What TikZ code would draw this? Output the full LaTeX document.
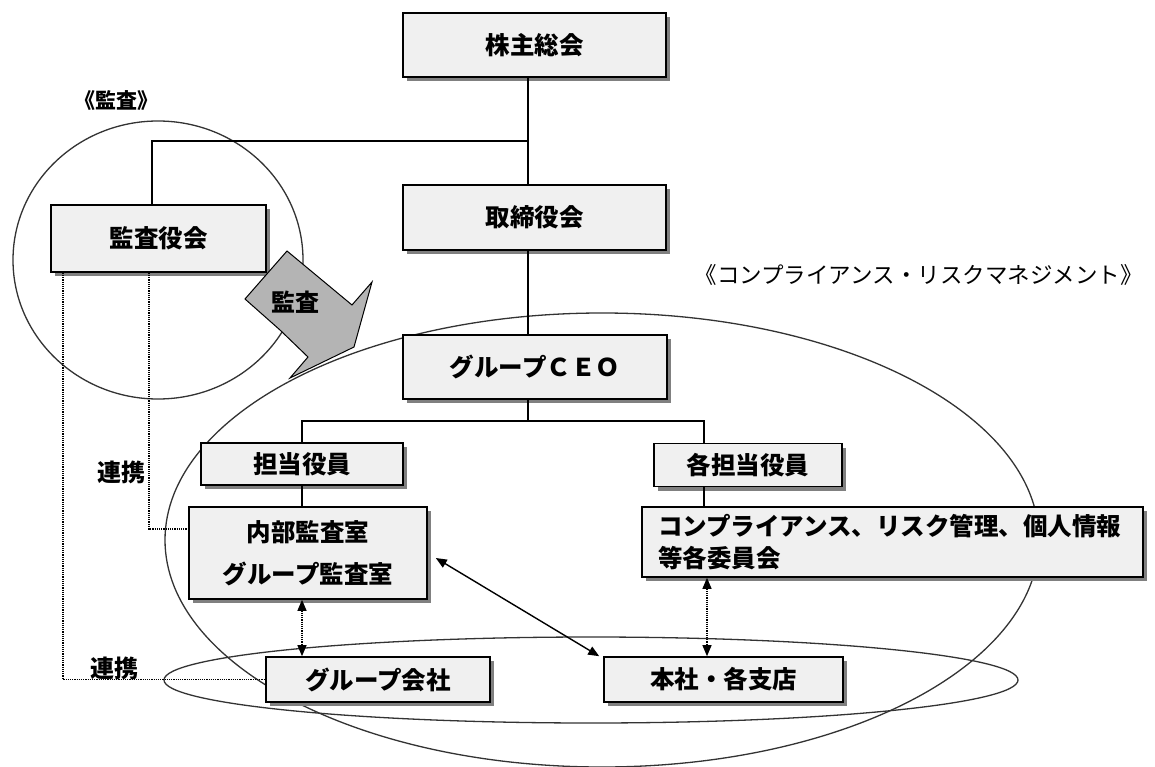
\documentclass[tikz,border=0pt]{standalone}
\usepackage{fontspec}
\setmainfont{Noto Sans CJK JP}
\usetikzlibrary{arrows.meta,shadows,calc}
\definecolor{boxfill}{HTML}{F0F0F0}
\definecolor{shadowgray}{HTML}{808080}
\definecolor{ringgray}{HTML}{333333}
\definecolor{arrowgray}{HTML}{B4B4B4}
\begin{document}
\begin{tikzpicture}[x=1pt,y=-1pt,
  box/.style={draw=black, line width=1.6pt, fill=boxfill, inner sep=0pt,
    font=\bfseries\fontsize{24.5pt}{30pt}\selectfont,
    drop shadow={shadow xshift=4pt, shadow yshift=-4pt, fill=shadowgray, opacity=1}},
  conn/.style={line width=1.4pt},
  dotl/.style={line width=1.2pt, densely dotted},
  ring/.style={line width=1.3pt, draw=ringgray},
  tips/.style={{Triangle[length=11pt,width=9pt]}-{Triangle[length=11pt,width=9pt]}},
  lbl/.style={font=\bfseries\fontsize{24pt}{28pt}\selectfont, inner sep=0pt}]
\useasboundingbox (0,0) rectangle (1155,767);
\fill[white] (0,0) rectangle (1155,767);

% ellipses
\draw[ring] (158,260) ellipse [x radius=145pt, y radius=139pt];
\draw[ring] (602,540) ellipse [x radius=437pt, y radius=227pt];
\draw[ring] (591,680) ellipse [x radius=427pt, y radius=43pt];

% helper coordinates
\coordinate (tk) at (528,0);
\coordinate (j1) at (528,141);
\coordinate (kx) at (152,0);
\coordinate (br) at (528,421);
\coordinate (kx2) at (704,0);
\coordinate (da) at (707,0);
\coordinate (d1) at (63,0);
\coordinate (d3) at (149,529);

% boxes
\node[box, minimum width=263pt, minimum height=64pt] (kabunushi) at (534.5,45) {株主総会};
\node[box, minimum width=263pt, minimum height=65pt] (torishimari) at (534.5,217.5) {取締役会};
\node[box, minimum width=215pt, minimum height=67pt] (kansayaku) at (158.5,238.5) {監査役会};
\node[box, minimum width=264pt, minimum height=64pt] (ceo) at (535,367) {グループＣＥＯ};
\node[box, minimum width=202pt, minimum height=42pt] (tanto) at (302,464) {担当役員};
\node[box, minimum width=238pt, minimum height=92pt, align=center,
  font=\bfseries\fontsize{24.5pt}{42pt}\selectfont] (naibu) at (308,553) {内部監査室\\グループ監査室};
\node[box, minimum width=188pt, minimum height=43pt] (kaku) at (748,465) {各担当役員};
\node[box, minimum width=501pt, minimum height=70pt, text width=469pt, align=left,
  font=\bfseries\fontsize{24.5pt}{32pt}\selectfont] (committee) at (892.5,542)
  {コンプライアンス、リスク管理、個人情報\\等各委員会};
\node[box, minimum width=224pt, minimum height=45pt] (group) at (378,679.5) {グループ会社};
\node[box, minimum width=239pt, minimum height=45pt] (honsha) at (723.5,679.5) {本社・各支店};

% solid connectors
\draw[conn] (kabunushi.south -| tk) -- (torishimari.north -| tk);
\draw[conn] (torishimari.south -| tk) -- (ceo.north -| tk);
\draw[conn] (kansayaku.north -| kx) |- (j1);
\draw[conn] (ceo.south -| tk) -- (br);
\draw[conn] (tanto.north) |- (br);
\draw[conn] (kaku.north -| kx2) |- (br);
\draw[conn] (tanto.south) -- (tanto.south |- naibu.north);
\draw[conn] (kaku.south -| kx2) -- (committee.north -| kx2);
\draw[conn, tips] ([xshift=8pt,yshift=-5pt]naibu.east) -- ([xshift=-4pt]honsha.north west);

% dotted connectors
\draw[dotl, tips] (naibu.south -| tanto.south) -- (group.north -| tanto.south);
\draw[dotl, tips] (committee.south -| da) -- (honsha.north -| da);
\draw[dotl] (kansayaku.south -| d1) |- (group.west);
\draw[dotl] (kansayaku.south -| d3) -- (d3) -- (naibu.west |- d3);

% audit arrow
\filldraw[fill=arrowgray, draw=black, line width=1pt, line join=miter]
  (245,299) -- (287,251) -- (352,305) -- (372,282) -- (354,347) -- (290,378) -- (308,357) -- (280,330) -- cycle;
\node[lbl] (kansaarrow) at (295,302) {監査};

% labels
\node[lbl, font=\bfseries\fontsize{21pt}{24pt}\selectfont] (kansalbl) at (116,101) {《監査》};
\node[inner sep=0pt, font=\fontsize{22.5pt}{26pt}\selectfont] (crm) at (918.5,275) {《コンプライアンス・リスクマネジメント》};
\node[lbl] (renkei1) at (121,472) {連携};
\node[lbl] (renkei2) at (114,668) {連携};
\end{tikzpicture}
\end{document}
